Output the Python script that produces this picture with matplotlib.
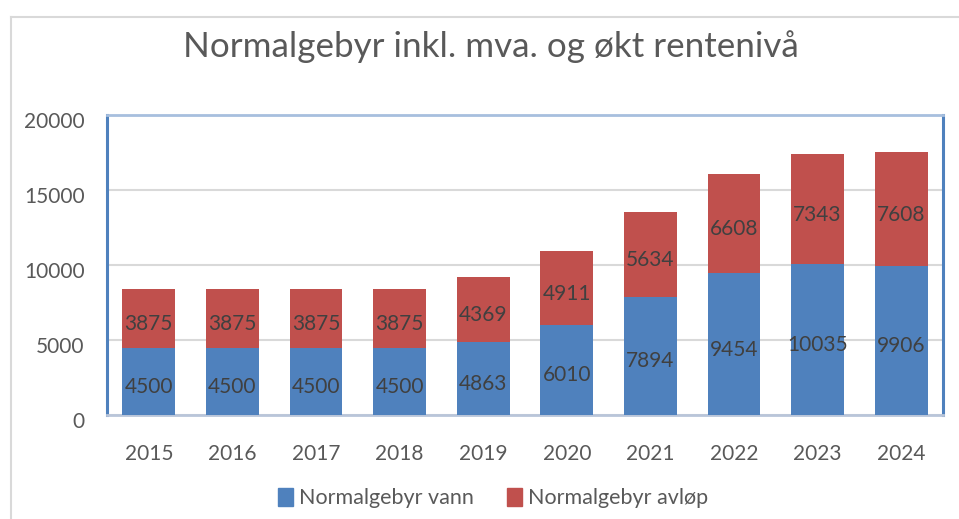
import matplotlib
matplotlib.use('Agg')
import matplotlib.pyplot as plt
import matplotlib.transforms as mtransforms
from matplotlib.lines import Line2D
from matplotlib.patches import Patch
import numpy as np

title = "Normalgebyr inkl. mva. og økt rentenivå"
years = ['2015', '2016', '2017', '2018', '2019', '2020', '2021', '2022', '2023', '2024']
vann = [4500, 4500, 4500, 4500, 4863, 6010, 7894, 9454, 10035, 9906]
avlop = [3875, 3875, 3875, 3875, 4369, 4911, 5634, 6608, 7343, 7608]
series_names = ['Normalgebyr vann', 'Normalgebyr avløp']
yticks = [0, 5000, 10000, 15000, 20000]

BLUE = '#4F81BD'
RED = '#C0504D'
GREY_TXT = '#595959'
LABEL_TXT = '#404040'

plt.rcParams['font.family'] = ['Lato', 'DejaVu Sans']

W, H = 959, 519
fig = plt.figure(figsize=(W / 100, H / 100), dpi=100)
ax = fig.add_axes([107 / W, 1 - 415 / H, 836 / W, 300 / H])

x = np.arange(len(years))
b1 = ax.bar(x, vann, 0.63, color=BLUE, zorder=3)
b2 = ax.bar(x, avlop, 0.63, bottom=vann, color=RED, zorder=3)

ax.set_xlim(-0.5, len(years) - 0.5)
ax.set_ylim(0, 20000)
ax.set_xticks(x)
ax.set_xticklabels(years)
ax.set_yticks(yticks)
ax.set_yticklabels([str(v) for v in yticks])
ax.grid(axis='y', color='#D9D9D9', lw=1.5, zorder=0)
ax.set_axisbelow(True)
ax.tick_params(length=0, labelsize=15, colors=GREY_TXT)
ax.tick_params(axis='x', pad=21)
ax.tick_params(axis='y', pad=16)

off = mtransforms.ScaledTranslation(0, -5 / 100, fig.dpi_scale_trans)
for t in ax.yaxis.get_major_ticks():
    t.label1.set_transform(t.label1.get_transform() + off)

for s in ['left', 'right']:
    ax.spines[s].set_color(BLUE)
    ax.spines[s].set_linewidth(2.2)
ax.spines['top'].set_color('#A7BFDE')
ax.spines['top'].set_linewidth(2)
ax.spines['bottom'].set_color('#B9C5D9')
ax.spines['bottom'].set_linewidth(2)

for i in range(len(years)):
    ax.annotate(str(vann[i]), (x[i], vann[i] / 2), xytext=(0, -4), textcoords='offset points',
                ha='center', va='center', fontsize=15, color=LABEL_TXT, zorder=4)
    ax.annotate(str(avlop[i]), (x[i], vann[i] + avlop[i] / 2), xytext=(0, -4), textcoords='offset points',
                ha='center', va='center', fontsize=15, color=LABEL_TXT, zorder=4)

fig.text(491 / W, 1 - 47 / H, title, ha='center', va='center', fontsize=25.2,
         color=GREY_TXT, fontweight='normal')

handles = [Patch(color=BLUE), Patch(color=RED)]
fig.legend(handles, series_names, loc='center', bbox_to_anchor=(493 / W, 1 - 498 / H),
           ncol=2, frameon=False, handlelength=0.7, handleheight=0.9, fontsize=15.5,
           labelcolor=GREY_TXT, handletextpad=0.3, columnspacing=1.5)

fig.add_artist(Line2D([11 / W, 11 / W], [0, 1 - 17 / H], color='#D9D9D9', lw=1.5))
fig.add_artist(Line2D([11 / W, 1], [1 - 17 / H, 1 - 17 / H], color='#D9D9D9', lw=1.5))

fig.savefig('out.png', dpi=100)
